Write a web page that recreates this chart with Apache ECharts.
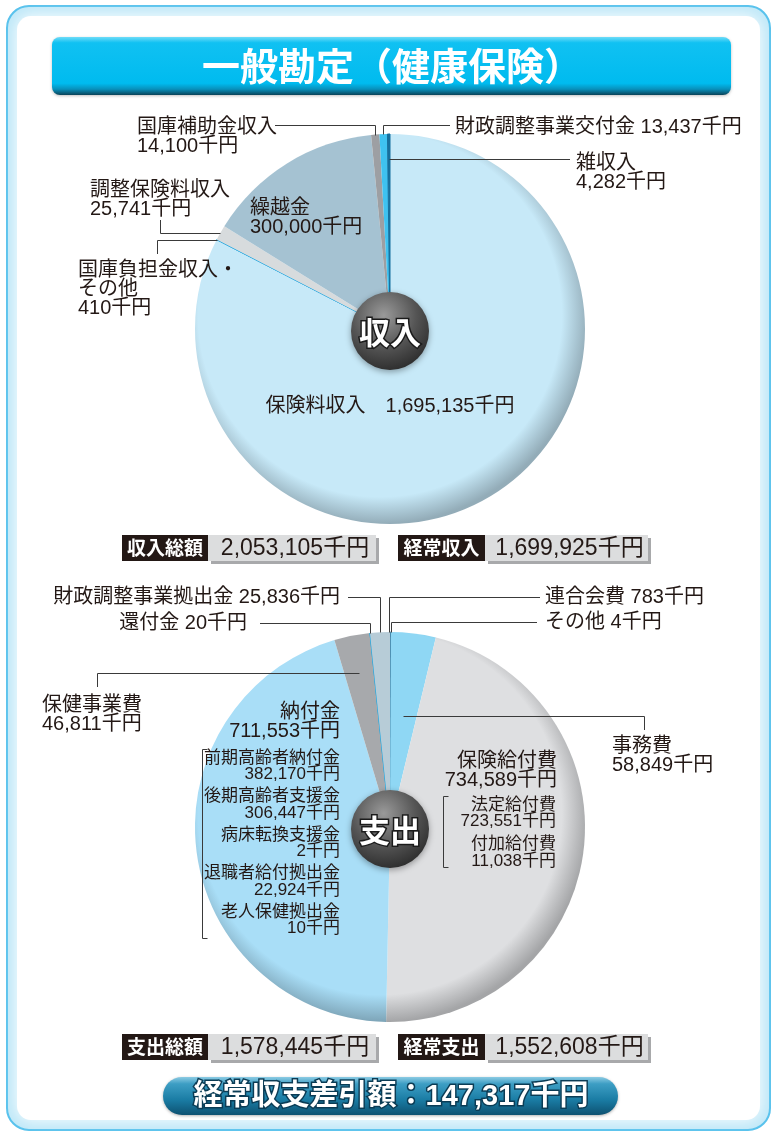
<!DOCTYPE html>
<html>
<head>
<meta charset="utf-8">
<script src="https://cdn.jsdelivr.net/npm/echarts@6/dist/echarts.min.js"></script>
<style>
html, body { margin: 0; padding: 0; background: #fff; }
#chart { width: 777px; height: 1137px; }
</style>
</head>
<body>
<div id="chart"></div>
<script>
// 収入 (clockwise from 12 o'clock)
const incomeNames = ['保険料収入', '国庫負担金収入・\nその他', '調整保険料収入', '繰越金', '国庫補助金収入', '財政調整事業交付金', '雑収入']
const incomeValues = [1695135, 410, 25741, 300000, 14100, 13437, 4282]
const incomeColors = ['#c7e9f8', '#2aa9e0', '#d7dbdd', '#a5c2d2', '#9d9fa3', '#3fc2f0', '#16709e']

// 支出 (clockwise from 12 o'clock)
const expenseNames = ['その他', '連合会費', '事務費', '保険給付費', '納付金', '保健事業費', '還付金', '財政調整事業拠出金']
const expenseValues = [4, 783, 58849, 734589, 711553, 46811, 20, 25836]
const expenseColors = ['#1c5a80', '#1c5a80', '#8fd7f4', '#dedfe1', '#a9def7', '#a7a9ac', '#2aa9e0', '#b7ccd7']

// 内訳
const nofukinNames = ['前期高齢者納付金', '後期高齢者支援金', '病床転換支援金', '退職者給付拠出金', '老人保健拠出金']
const nofukinValues = [382170, 306447, 2, 22924, 10]
const kyufuNames = ['法定給付費', '付加給付費']
const kyufuValues = [723551, 11038]

// 合計
const summaryLabels = ['収入総額', '経常収入', '支出総額', '経常支出']
const summaryValues = [2053105, 1699925, 1578445, 1552608]
const balanceLabel = '経常収支差引額'
const balanceValue = 147317

const FONT = "'Liberation Sans', 'Noto Sans CJK JP', sans-serif"
const JP = "'Noto Sans CJK JP', sans-serif"
const INK = '#231815'
const R = 195
const topCenter = [390, 329]
const botCenter = [390, 827]

const fmt = v => String(v).replace(/\B(?=(\d{3})+(?!\d))/g, ',') + '千円'

function darken(hex, k) {
  const n = parseInt(hex.slice(1), 16)
  const c = [(n >> 16) & 255, (n >> 8) & 255, n & 255].map(x => Math.round(x * k))
  return 'rgb(' + c.join(',') + ')'
}

// rim shading, light from top-left
function rim(base, c) {
  return {
    type: 'radial', x: c[0] - 10, y: c[1] - 14, r: R + 14, global: true,
    colorStops: [
      { offset: 0, color: base },
      { offset: 0.87, color: base },
      { offset: 1, color: darken(base, 0.74) },
    ],
  }
}

// label placement: text mode, position, leader line
// line A: up from edge then across / B: across then up/down / H: across only
const incomeLabels = {
  '保険料収入': { mode: 'gap', x: 390, y: 406, align: 'center', va: 'middle' },
  '国庫負担金収入・\nその他': { mode: 'two', x: 78, y: 261, align: 'left', va: 'top', line: 'B', r: 1, elbowX: 157, endY: 254 },
  '調整保険料収入': { mode: 'two', x: 90, y: 181, align: 'left', va: 'top', line: 'B', r: 1, elbowX: 160, endY: 220 },
  '繰越金': { mode: 'two', x: 250, y: 199, align: 'left', va: 'top' },
  '国庫補助金収入': { mode: 'two', x: 137, y: 118, align: 'left', va: 'top', line: 'A', r: 1, lineY: 125, endX: 275 },
  '財政調整事業交付金': { mode: 'one', x: 455, y: 127, align: 'left', va: 'middle', line: 'A', r: 1, lineY: 125, endX: 450 },
  '雑収入': { mode: 'two', x: 576, y: 154, align: 'left', va: 'top', line: 'H', r: 0.87, endX: 570 },
}
const expenseLabels = {
  'その他': { mode: 'one', x: 545, y: 622, align: 'left', va: 'middle', line: 'A', r: 1, lineY: 622, endX: 537, dx: 1 },
  '連合会費': { mode: 'one', x: 545, y: 597, align: 'left', va: 'middle', line: 'A', r: 1, lineY: 597, endX: 540, dx: -1.5 },
  '事務費': { mode: 'two', x: 612, y: 737, align: 'left', va: 'top', line: 'B', r: 0.573, elbowX: 644, endY: 730 },
  '保険給付費': { mode: 'two', x: 557, y: 752, align: 'right', va: 'top' },
  '納付金': { mode: 'two', x: 340, y: 703, align: 'right', va: 'top' },
  '保健事業費': { mode: 'two', x: 42, y: 696, align: 'left', va: 'top', line: 'B', r: 0.805, elbowX: 97, endY: 687 },
  '還付金': { mode: 'one', x: 247, y: 623, align: 'right', va: 'middle', line: 'A', r: 1, lineY: 623, endX: 260 },
  '財政調整事業拠出金': { mode: 'one', x: 340, y: 597, align: 'right', va: 'middle', line: 'A', r: 1, lineY: 597, endX: 348 },
}

function labelText(name, value, mode) {
  if (mode === 'one') return name + ' ' + fmt(value)
  if (mode === 'gap') return name + '　' + fmt(value)
  return name + '\n' + fmt(value)
}

function buildData(names, values, colors, specs, center) {
  const total = values.reduce((a, b) => a + b, 0)
  return names.map((n, i) => {
    const s = specs[n]
    const tiny = values[i] / total < 0.004
    return {
      name: n,
      value: values[i],
      itemStyle: {
        color: tiny ? colors[i] : rim(colors[i], center),
        borderWidth: tiny ? 1 : 0,
        borderColor: colors[i],
      },
      label: { formatter: labelText(n, values[i], s.mode) },
    }
  })
}

// point on the bisector of a slice, f = fraction of the radius
function midPoint(values, idx, center, f) {
  const total = values.reduce((a, b) => a + b, 0)
  let cum = 0
  for (let i = 0; i < idx; i++) cum += values[i]
  const t = (cum + values[idx] / 2) / total * Math.PI * 2
  return [center[0] + R * f * Math.sin(t), center[1] - R * f * Math.cos(t)]
}

// leader lines drawn over the pie, anchored on each slice's bisector
function leaderLines(names, values, specs, center) {
  const out = []
  names.forEach((n, i) => {
    const s = specs[n]
    if (!s.line) return
    const m = midPoint(values, i, center, s.r)
    const a = [Math.round(m[0] + (s.dx || 0)) + 0.5, Math.round(m[1]) + 0.5]
    let pts
    if (s.line === 'A') pts = [a, [a[0], s.lineY + 0.5], [s.endX, s.lineY + 0.5]]
    else if (s.line === 'B') pts = [a, [s.elbowX + 0.5, a[1]], [s.elbowX + 0.5, s.endY]]
    else pts = [a, [s.endX, a[1]]]
    out.push({
      type: 'polyline', z: 40, silent: true,
      shape: { points: pts },
      style: { stroke: '#3a3a3a', lineWidth: 1, fill: null },
    })
  })
  return out
}

function labelLayoutOf(names, specs) {
  return function (params) {
    const s = specs[names[params.dataIndex]]
    return { x: s.x, y: s.y, align: s.align, verticalAlign: s.va }
  }
}

function pieSeries(names, values, colors, specs, center) {
  return {
    type: 'pie',
    center: center,
    radius: R,
    startAngle: 90,
    clockwise: true,
    avoidLabelOverlap: false,
    silent: true,
    z: 2,
    itemStyle: { borderWidth: 0 },
    label: {
      show: true, position: 'outside', color: INK,
      fontFamily: FONT, fontSize: 20, lineHeight: 19,
    },
    labelLine: { show: false },
    labelLayout: labelLayoutOf(names, specs),
    data: buildData(names, values, colors, specs, center),
  }
}

// sub breakdown lists inside the 支出 pie
function subList(names, values, rightX, topY, step, bx, by2) {
  const els = names.map((n, i) => ({
    type: 'text', z: 60, silent: true,
    style: {
      text: n + '\n' + fmt(values[i]), x: rightX, y: topY + i * step,
      align: 'right', textAlign: 'right', verticalAlign: 'top', textVerticalAlign: 'top',
      fill: INK, font: '17px ' + FONT, lineHeight: 16.5,
    },
  }))
  els.push({
    type: 'polyline', z: 60, silent: true,
    shape: { points: [[bx + 5.5, topY - 0.5], [bx + 0.5, topY - 0.5], [bx + 0.5, by2 + 0.5], [bx + 5.5, by2 + 0.5]] },
    style: { stroke: '#3a3a3a', lineWidth: 1, fill: null },
  })
  return els
}

function summaryBox(label, value, x, y, w1, w2) {
  return [
    { type: 'rect', z: 5, shape: { x: x + w1, y: y, width: w2, height: 26 },
      style: { fill: '#dcddde', shadowColor: '#a8a9ab', shadowOffsetX: 3, shadowOffsetY: 3 } },
    { type: 'rect', z: 6, shape: { x: x, y: y, width: w1, height: 26 }, style: { fill: INK } },
    { type: 'text', z: 7, style: { text: label, x: x + w1 / 2, y: y + 13, align: 'center', textAlign: 'center',
      verticalAlign: 'middle', textVerticalAlign: 'middle', fill: '#fff', font: 'bold 19px ' + JP } },
    { type: 'text', z: 7, style: { text: fmt(value), x: x + w1 + w2 / 2 + 3, y: y + 14, align: 'center', textAlign: 'center',
      verticalAlign: 'middle', textVerticalAlign: 'middle', fill: INK, font: '23px ' + FONT } },
  ]
}

function centerBall(text, c) {
  return [
    { type: 'circle', z: 50, shape: { cx: c[0], cy: c[1], r: 39 },
      style: {
        fill: { type: 'radial', x: 0.42, y: 0.3, r: 0.75, colorStops: [
          { offset: 0, color: '#9a9a9a' }, { offset: 0.55, color: '#555' }, { offset: 1, color: '#2a2a2a' } ] },
        shadowBlur: 6, shadowColor: 'rgba(0,0,0,0.35)', shadowOffsetY: 2,
      } },
    { type: 'text', z: 51, style: { text: text, x: c[0], y: c[1] + 1, align: 'center', textAlign: 'center',
      verticalAlign: 'middle', textVerticalAlign: 'middle', fill: '#fff', stroke: '#1b1b1b', lineWidth: 3,
      font: 'bold 31px ' + JP } },
  ]
}

const graphics = [
  // frame
  { type: 'rect', z: 0, silent: true, shape: { x: 7, y: 6, width: 763, height: 1124, r: 22 },
    style: { fill: '#bfe8f8', stroke: '#4fbfec', lineWidth: 2 } },
  { type: 'rect', z: 0, silent: true, shape: { x: 17, y: 16, width: 743, height: 1104, r: 14 },
    style: { fill: '#fff', shadowBlur: 16, shadowColor: '#fff' } },
  // title banner
  { type: 'rect', z: 1, shape: { x: 52, y: 37, width: 679, height: 58, r: 8 },
    style: {
      fill: { type: 'linear', x: 0, y: 0, x2: 0, y2: 1, colorStops: [
        { offset: 0, color: '#6fdcf8' }, { offset: 0.1, color: '#10c1f2' }, { offset: 0.8, color: '#00bbef' },
        { offset: 0.9, color: '#0890bb' }, { offset: 1, color: '#0b4358' } ] },
      shadowBlur: 3, shadowColor: 'rgba(0,0,0,0.25)', shadowOffsetY: 1,
    } },
  { type: 'text', z: 2, style: { text: '一般勘定（健康保険）', x: 392, y: 66, align: 'center', textAlign: 'center',
    verticalAlign: 'middle', textVerticalAlign: 'middle', fill: '#fff', font: 'bold 38px ' + JP,
    shadowBlur: 2, shadowColor: 'rgba(0,60,90,0.5)' } },
  ...leaderLines(incomeNames, incomeValues, incomeLabels, topCenter),
  ...leaderLines(expenseNames, expenseValues, expenseLabels, botCenter),
  ...centerBall('収入', [390, 331]),
  ...centerBall('支出', [390, 829]),
  ...subList(nofukinNames, nofukinValues, 340, 750, 38.5, 202, 938),
  ...subList(kyufuNames, kyufuValues, 556, 797, 39.5, 443, 867),
  ...summaryBox(summaryLabels[0], summaryValues[0], 122, 535, 86, 168),
  ...summaryBox(summaryLabels[1], summaryValues[1], 398, 535, 87, 163),
  ...summaryBox(summaryLabels[2], summaryValues[2], 122, 1034, 86, 168),
  ...summaryBox(summaryLabels[3], summaryValues[3], 398, 1034, 87, 163),
  // balance banner
  { type: 'rect', z: 5, shape: { x: 163, y: 1077, width: 455, height: 38, r: 19 },
    style: {
      fill: { type: 'linear', x: 0, y: 0, x2: 0, y2: 1, colorStops: [
        { offset: 0, color: '#8ccbe3' }, { offset: 0.18, color: '#3d9ec4' }, { offset: 0.6, color: '#1a7ca4' },
        { offset: 1, color: '#0d5171' } ] },
      shadowBlur: 3, shadowColor: 'rgba(0,0,0,0.3)', shadowOffsetY: 1,
    } },
  { type: 'text', z: 6, style: { text: balanceLabel + '：' + fmt(balanceValue), x: 391, y: 1097, align: 'center',
    textAlign: 'center', verticalAlign: 'middle', textVerticalAlign: 'middle', fill: '#fff', stroke: '#0b3c55',
    lineWidth: 3, font: 'bold 29px ' + FONT } },
]

const chart = echarts.init(document.getElementById('chart'), null, { renderer: 'canvas' })
chart.setOption({
  animation: false,
  backgroundColor: '#fff',
  graphic: { elements: graphics },
  series: [
    pieSeries(incomeNames, incomeValues, incomeColors, incomeLabels, topCenter),
    pieSeries(expenseNames, expenseValues, expenseColors, expenseLabels, botCenter),
  ],
})
</script>
</body>
</html>
